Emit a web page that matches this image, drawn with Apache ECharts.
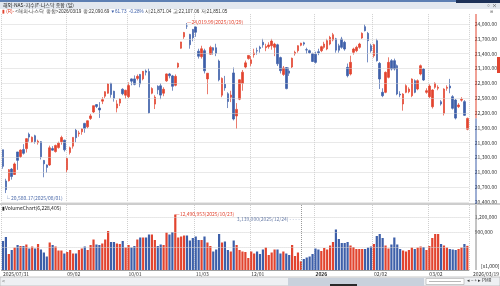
<!DOCTYPE html>
<html>
<head>
<meta charset="utf-8">
<script src="https://cdn.jsdelivr.net/npm/echarts@6/dist/echarts.min.js"></script>
<style>
  html, body { margin: 0; padding: 0; background: #fff; }
  #chart { width: 500px; height: 286px; }
</style>
</head>
<body>
<div id="chart"></div>
<script>
// trading days per month
const tradeDays = {
  '2025/07': [31],
  '2025/08': [1, 4, 5, 6, 7, 8, 11, 12, 13, 14, 15, 18, 19, 20, 21, 22, 25, 26, 27, 28, 29],
  '2025/09': [2, 3, 4, 5, 8, 9, 10, 11, 12, 15, 16, 17, 18, 19, 22, 23, 24, 25, 26, 29, 30],
  '2025/10': [1, 2, 3, 6, 7, 8, 9, 10, 13, 14, 15, 16, 17, 20, 21, 22, 23, 24, 27, 28, 29, 30, 31],
  '2025/11': [3, 4, 5, 6, 7, 10, 11, 12, 13, 14, 17, 18, 19, 20, 21, 24, 25, 26, 28],
  '2025/12': [1, 2, 3, 4, 5, 8, 9, 10, 11, 12, 15, 16, 17, 18, 19, 22, 23, 24, 26, 29, 30, 31],
  '2026/01': [2, 5, 6, 7, 8, 9, 12, 13, 14, 15, 16, 20, 21, 22, 23, 26, 27, 28, 29, 30],
  '2026/02': [2, 3, 4, 5, 6, 9, 10, 11, 12, 13, 17, 18, 19, 20, 23, 24, 25, 26, 27],
  '2026/03': [2, 3, 4, 5, 6, 9, 10, 11, 12, 13, 16, 17, 18, 19]
};
const dates = [];
Object.keys(tradeDays).forEach(m => tradeDays[m].forEach(d => dates.push(m + '/' + String(d).padStart(2, '0'))));

const open = [
  21457, 20826, 20830, 21065, 20956, 21412, 21320, 21460, 21480, 21770,
  21620, 21740, 21600, 21620, 21240, 21150, 21150, 21480, 21420, 21500,
  21620, 21650, 21050, 21400, 21530, 21850, 21780, 21820, 21990, 21920,
  22090, 22220, 22370, 22300, 22440, 22540, 22600, 22800, 22640, 22300,
  22400, 22680, 22560, 22530, 22890, 22890, 22900, 22980, 22890, 23050,
  23040, 22600, 22380, 22740, 22750, 22600, 22850, 22990, 22950, 22760,
  23130, 23510, 23740, 23960, 23790, 23890, 23940, 23450, 23340, 23460,
  22890, 23390, 23520, 23520, 23250, 22560, 22780, 22590, 22520, 23010,
  22140, 22480, 22800, 23130, 23300, 23200, 23380, 23460, 23530, 23630,
  23520, 23540, 23560, 23530, 23580, 23320, 22980, 23120, 23050, 23130,
  23400, 23460, 23570, 23620, 23480, 23460, 23400, 23390, 23440, 23460,
  23528, 23494, 23595, 23676, 23700, 23560, 23696, 23629, 23123, 22988,
  23427, 23460, 23528, 23717, 23946, 23811, 23562, 23359, 23663, 23204,
  22618, 22618, 22921, 23258, 23258, 23157, 22580, 22382, 22618, 22631,
  22550, 22854, 22685, 22988, 23090, 22618, 22530, 22327, 22720, 22700,
  22428, 22194, 22700, 22746, 22530, 22463, 22328, 22460, 22430, 21871.04
];
const high = [
  21457, 20870, 21066, 21086, 21198, 21414, 21464, 21570, 21690, 21803,
  21725, 21760, 21660, 21630, 21250, 21160, 21540, 21530, 21560, 21620,
  21740, 21660, 21300, 21520, 21710, 21880, 21840, 21890, 22000, 22050,
  22180, 22350, 22380, 22420, 22520, 22640, 22800, 22810, 22650, 22460,
  22500, 22700, 22670, 22820, 22900, 22960, 22980, 22990, 23050, 23080,
  23100, 22720, 22560, 22760, 22800, 22720, 23000, 23010, 22970, 22980,
  23220, 23640, 23840, 24019.99, 23800, 23900, 23950, 23500, 23560, 23500,
  23010, 23560, 23530, 23600, 23280, 22920, 22950, 22620, 22650, 23120,
  22400, 22880, 23070, 23260, 23370, 23350, 23500, 23520, 23560, 23700,
  23600, 23630, 23700, 23620, 23600, 23340, 23150, 23130, 23120, 23320,
  23460, 23570, 23620, 23640, 23520, 23480, 23420, 23440, 23500, 23560,
  23640, 23700, 23760, 23820, 23720, 23600, 23740, 23660, 23200, 23359,
  23520, 23560, 23620, 23830, 23990, 23840, 23600, 23600, 23700, 23230,
  22700, 23040, 23326, 23290, 23300, 23180, 22640, 22600, 22780, 22720,
  22900, 22880, 22880, 23180, 23110, 22700, 22780, 22680, 22820, 22760,
  22460, 22700, 22760, 22890, 22560, 22480, 22400, 22520, 22460, 22107.06
];
const low = [
  21072, 20580.17, 20815, 20853, 20946, 21050, 21290, 21360, 21400, 21620,
  21600, 21580, 21560, 21260, 20900, 20990, 21130, 21440, 21400, 21480,
  21560, 21420, 21000, 21360, 21480, 21610, 21720, 21760, 21800, 21890,
  22060, 22200, 22300, 22100, 22380, 22500, 22590, 22510, 22430, 22213,
  22340, 22560, 22490, 22500, 22760, 22760, 22860, 22720, 22860, 22960,
  22190, 22580, 22280, 22580, 22480, 22540, 22830, 22900, 22650, 22740,
  23100, 23500, 23700, 23900, 23500, 23650, 23740, 23300, 23300, 23000,
  22580, 23380, 23380, 23350, 22840, 22520, 22650, 22300, 22420, 22050,
  21880, 22460, 22650, 23100, 23280, 23150, 23320, 23380, 23420, 23520,
  23450, 23500, 23480, 23350, 23150, 23000, 22950, 22680, 22950, 23110,
  23360, 23420, 23550, 23560, 23400, 23400, 23230, 23200, 23370, 23430,
  23500, 23470, 23570, 23650, 23420, 23420, 23500, 23460, 22921, 22960,
  23380, 23430, 23500, 23700, 23850, 23224, 23420, 23320, 23240, 22685,
  22520, 22600, 22900, 23060, 23060, 22560, 22520, 22247, 22600, 22600,
  22520, 22600, 22660, 22960, 22850, 22590, 22500, 22290, 22690, 22660,
  22350, 22150, 22650, 22600, 22270, 22070, 22300, 22430, 22140, 21851.05
];
const close = [
  21122, 20650, 21053, 20916, 21169, 21242, 21450, 21385, 21681, 21713,
  21710, 21622, 21629, 21314, 21172, 21100, 21496, 21449, 21544, 21590,
  21705, 21455, 21279, 21497, 21707, 21700, 21798, 21879, 21886, 22043,
  22141, 22348, 22333, 22261, 22470, 22631, 22788, 22573, 22497, 22384,
  22484, 22591, 22660, 22755, 22844, 22780, 22941, 22788, 23043, 23024,
  22204, 22694, 22521, 22670, 22562, 22679, 22990, 22953, 22740, 22941,
  23204, 23637, 23827, 23958, 23581, 23724, 23834, 23348, 23499, 23053,
  23004, 23527, 23468, 23406, 22870, 22900, 22708, 22432, 22564, 22078,
  22273, 22872, 23025, 23214, 23365, 23275, 23413, 23454, 23505, 23578,
  23545, 23576, 23654, 23593, 23195, 23057, 23111, 22693, 23006, 23307,
  23428, 23561, 23613, 23593, 23474, 23419, 23242, 23224, 23420, 23541,
  23595, 23663, 23730, 23784, 23471, 23470, 23528, 23494, 22955, 23224,
  23494, 23528, 23595, 23811, 23865, 23663, 23460, 23582, 23258, 22887,
  22550, 23022, 23224, 23090, 23090, 22584, 22564, 22584, 22752, 22685,
  22887, 22618, 22854, 23157, 22867, 22651, 22746, 22665, 22800, 22720,
  22382, 22685, 22720, 22705, 22295, 22097, 22362, 22477, 22152.42, 22090.69
];
// volume, thousand shares
const volume = [
  7200000, 8000000, 4600000, 5400000, 5900000, 6400000, 6200000, 6200000, 6500000, 5700000,
  6100000, 5700000, 6600000, 5500000, 4900000, 4100000, 6900000, 6400000, 6100000, 5300000,
  5300000, 4700000, 5000000, 5400000, 4700000, 4700000, 5400000, 5700000, 6100000, 5400000,
  6400000, 7500000, 6500000, 6400000, 6700000, 7500000, 9200000, 7000000, 7000000, 6700000,
  6600000, 7200000, 5900000, 6400000, 5900000, 6200000, 7500000, 7900000, 7900000, 7900000,
  8500000, 8500000, 7400000, 6200000, 6500000, 6400000, 8900000, 8500000, 9000000, 12490953,
  7900000, 8100000, 8300000, 8300000, 7300000, 7800000, 8100000, 7400000, 7400000, 8100000,
  6900000, 6200000, 5100000, 5500000, 8600000, 6900000, 7100000, 5400000, 5100000, 7300000,
  6400000, 5400000, 5100000, 5000000, 3800000, 5100000, 4700000, 5100000, 4600000, 5500000,
  5900000, 4400000, 4900000, 5500000, 5500000, 4700000, 5100000, 4700000, 4400000, 6400000,
  4200000, 4900000, 3139000, 3600000, 3900000, 4100000, 4600000, 5700000, 5500000, 5200000,
  5800000, 5500000, 6300000, 7000000, 9500000, 7600000, 6800000, 6800000, 7000000, 6300000,
  6000000, 5600000, 5600000, 5600000, 5600000, 5900000, 6100000, 6600000, 8200000, 8600000,
  7800000, 6300000, 5700000, 6500000, 7900000, 6500000, 5600000, 5300000, 5100000, 5400000,
  5900000, 5600000, 5900000, 6100000, 6000000, 5400000, 6200000, 7800000, 8600000, 8600000,
  6600000, 6300000, 5900000, 5600000, 5500000, 5400000, 5600000, 5900000, 6600000, 6228405
];

const priceTicks = [20400, 20700, 21000, 21300, 21600, 21900, 22200, 22500, 22800, 23100, 23400, 23700, 24000];
const volTicks = [6000000, 9000000, 12000000];
const xTickIdx = [0, 22, 43, 66, 85, 107, 127, 146];
const xTickText = ['2025/07/31', '09/02', '10/01', '11/03', '12/01', '2026', '02/02', '03/02'];

const RED = '#e2442f';
const BLUE = '#3d5fa9';
const FONT = '"Noto Sans CJK KR", "Noto Sans", sans-serif';
const last = dates.length - 1;

const fmt2 = v => v.toLocaleString('en-US', { minimumFractionDigits: 2, maximumFractionDigits: 2 });
const fmt0 = v => Math.round(v).toLocaleString('en-US');
// the volume scale on the right is printed in tens
const fmtVolAxis = v => fmt0(v / 10);

const chart = echarts.init(document.getElementById('chart'));

const option = {
  animation: false,
  backgroundColor: '#fff',
  textStyle: { fontFamily: FONT },
  grid: [
    { left: 1.5, right: 28, top: 14.11, bottom: 84 },
    { left: 1.5, right: 28, top: 205, bottom: 16 }
  ],
  xAxis: [
    {
      type: 'category', gridIndex: 0, data: dates, boundaryGap: true,
      axisLine: { show: false }, axisTick: { show: false }, axisLabel: { show: false },
      splitLine: { show: true, interval: i => xTickIdx.includes(i), lineStyle: { color: '#cfcfcf', type: 'dotted' } }
    },
    {
      type: 'category', gridIndex: 1, data: dates, boundaryGap: true,
      axisLine: { show: true, lineStyle: { color: '#a0a0a0' } }, axisTick: { show: false },
      splitLine: { show: true, interval: i => xTickIdx.includes(i), lineStyle: { color: '#cfcfcf', type: 'dotted' } },
      axisLabel: {
        interval: i => xTickIdx.includes(i), margin: 2, align: 'left', fontSize: 5, color: '#333',
        formatter: (v, i) => {
          const k = xTickIdx.indexOf(i);
          if (k < 0) return '';
          return xTickText[k] === '2026' ? '{b|2026}' : xTickText[k];
        },
        rich: { b: { fontWeight: 'bold', fontSize: 5, color: '#222' } }
      }
    }
  ],
  yAxis: [
    {
      type: 'value', gridIndex: 0, position: 'right', min: 20400, max: 24200, interval: 300,
      axisLine: { show: false }, axisTick: { show: false }, splitLine: { show: false },
      axisLabel: { margin: 6, fontSize: 5, color: '#333', formatter: v => priceTicks.includes(v) ? fmt2(v) : '' }
    },
    {
      type: 'value', gridIndex: 1, position: 'right', min: 1400000, max: 14400000, interval: 200000,
      axisLine: { show: false }, axisTick: { show: false }, splitLine: { show: false },
      axisLabel: { margin: 6, fontSize: 5, color: '#333', formatter: v => volTicks.includes(v) && v !== 6000000 ? fmtVolAxis(v) : '' }
    }
  ],
  series: [
    {
      type: 'candlestick', xAxisIndex: 0, yAxisIndex: 0, barWidth: 2,
      data: dates.map((d, i) => [open[i], close[i], low[i], high[i]]),
      itemStyle: { color: RED, color0: BLUE, borderColor: RED, borderColor0: BLUE, borderWidth: 0.7 },
      markLine: {
        silent: true, symbol: ['none', 'none'], animation: false,
        data: priceTicks.map(v => ({ yAxis: v, lineStyle: { color: '#d2d2d2', type: 'dotted', width: 1 }, label: { show: false } }))
          .concat([{
            yAxis: close[last], lineStyle: { opacity: 0 },
            label: {
              show: true, position: 'end', distance: 5, formatter: fmt2(close[last]) + '\n-0.28%',
              backgroundColor: BLUE, color: '#fff', fontSize: 5, lineHeight: 5, padding: [0.5, 4, 0.5, 1]
            }
          }])
      },
      markPoint: {
        symbol: 'circle', symbolSize: 0, silent: true, animation: false,
        data: [
          { coord: [dates[63], high[63]], label: { show: true, position: 'right', distance: 0, offset: [0, -1], formatter: '—24,019.99(2025/10/29)', color: RED, fontSize: 5 } },
          { coord: [dates[1], low[1]], label: { show: true, position: 'right', distance: 0, offset: [-1, 5], formatter: '└ 20,580.17(2025/08/01)', color: '#4e6cab', fontSize: 5 } }
        ]
      }
    },
    {
      type: 'bar', xAxisIndex: 1, yAxisIndex: 1, barWidth: 2.2,
      data: volume.map((v, i) => ({ value: v, itemStyle: { color: close[i] >= open[i] ? RED : BLUE } })),
      markLine: {
        silent: true, symbol: ['none', 'none'], animation: false,
        data: volTicks.map(v => ({ yAxis: v, lineStyle: { color: '#d2d2d2', type: 'dotted', width: 1 }, label: { show: false } }))
          .concat([
            { xAxis: dates[102], lineStyle: { color: '#9a9a9a', type: 'dotted', width: 1 }, label: { show: false } },
            {
              yAxis: volume[last], lineStyle: { opacity: 0 },
              label: { show: true, position: 'end', distance: 5, formatter: fmtVolAxis(volume[last]), backgroundColor: '#1e1e1e', color: '#fff', fontSize: 5, padding: [1, 4, 1, 1] }
            }
          ])
      },
      markPoint: {
        symbol: 'circle', symbolSize: 0, silent: true, animation: false,
        data: [
          { coord: [dates[59], volume[59]], label: { show: true, position: 'right', distance: 0, formatter: '—' + fmt0(volume[59]) + '(2025/10/23)', color: RED, fontSize: 5 } },
          { coord: [dates[102], 11600000], label: { show: true, position: 'left', distance: 1, formatter: fmt0(volume[102]) + '(2025/12/24) - - - -', color: '#6a7ea8', fontSize: 5 } }
        ]
      }
    }
  ]
};
chart.setOption(option);

const yLast = chart.convertToPixel({ yAxisIndex: 0 }, close[last]);
chart.setOption({
  graphic: [
    { type: 'rect', shape: { x: 0, y: 0, width: 500, height: 2 }, style: { fill: '#5d7fb3' }, z: 100 },
    { type: 'rect', shape: { x: 0, y: 2, width: 500, height: 7 }, style: { fill: '#e3e8ef' }, z: 100 },
    { type: 'rect', shape: { x: 456, y: 0, width: 44, height: 3 }, style: { fill: '#1d3158' }, z: 101 },
    { type: 'text', x: 3, y: 2.6, z: 102, style: { text: '해외-NAS-지수(F-나스닥 종합 (일)', font: '5px ' + FONT, fill: '#222', textVerticalAlign: 'top' } },
    { type: 'text', x: 486, y: 2.8, z: 102, style: { text: '▫ ×', font: '5px ' + FONT, fill: '#333', textVerticalAlign: 'top' } },
    { type: 'text', x: 490, y: 9.5, z: 102, style: { text: '⊞', font: '4px ' + FONT, fill: '#777', textVerticalAlign: 'top' } },
    {
      type: 'text', x: 2, y: 9.5, z: 102,
      style: {
        text: '{r|▮ (R)-} {k|<해외-나스닥 종합>2026/03/19 종:22,090.69} {b|▼61.73  -0.28%} {k|시:21,871.04 고:22,107.06 저:21,851.05}',
        font: '4.6px ' + FONT, textVerticalAlign: 'top',
        rich: { r: { fill: RED, fontSize: 4.6 }, k: { fill: '#333', fontSize: 4.6 }, b: { fill: BLUE, fontSize: 4.6 } }
      }
    },
    { type: 'line', shape: { x1: 0, y1: 204, x2: 500, y2: 204 }, style: { stroke: '#9c9c9c', lineWidth: 1 }, z: 90 },
    { type: 'line', shape: { x1: 476, y1: 14, x2: 476, y2: yLast }, style: { stroke: RED, lineWidth: 1 }, z: 90 },
    { type: 'line', shape: { x1: 476, y1: yLast, x2: 476, y2: 204 }, style: { stroke: BLUE, lineWidth: 1 }, z: 90 },
    { type: 'line', shape: { x1: 476, y1: 205, x2: 476, y2: 270 }, style: { stroke: '#8a8a8a', lineWidth: 1 }, z: 90 },
    { type: 'rect', shape: { x: 497, y: 57, width: 3, height: 16 }, style: { fill: RED }, z: 90 },
    { type: 'text', x: 2, y: 205.5, z: 102, style: { text: '▮VolumeChart(6,228,405)', font: '5px ' + FONT, fill: '#222', textVerticalAlign: 'top' } },
    { type: 'text', x: 481, y: 263.5, z: 102, style: { text: '[x1,000]', font: '5px ' + FONT, fill: '#222', textVerticalAlign: 'top' } },
    { type: 'text', x: 499, y: 271.5, z: 102, style: { text: '2026/03/19', font: '5px ' + FONT, fill: '#333', textAlign: 'right', textVerticalAlign: 'top' } },
    // scroll bar
    { type: 'rect', shape: { x: 0, y: 277, width: 500, height: 9 }, style: { fill: '#eef0f3', stroke: '#b9b9b9', lineWidth: 0.8 }, z: 100 },
    { type: 'rect', shape: { x: 288, y: 278, width: 136, height: 8 }, style: { fill: '#c9d1dc' }, z: 101 },
    { type: 'rect', shape: { x: 330, y: 284, width: 27, height: 2 }, style: { fill: '#2a2a2a' }, z: 102 },
    { type: 'rect', shape: { x: 426, y: 278.5, width: 38, height: 6 }, style: { fill: '#fff', stroke: '#aaa', lineWidth: 0.6 }, z: 101 },
    { type: 'line', shape: { x1: 429, y1: 281.5, x2: 461, y2: 281.5 }, style: { stroke: '#888', lineWidth: 0.6 }, z: 102 },
    { type: 'text', x: 2, y: 278.5, z: 102, style: { text: '<', font: '5px ' + FONT, fill: '#555', textVerticalAlign: 'top' } },
    { type: 'text', x: 467, y: 278.5, z: 102, style: { text: '◂ − + ▸ PMR', font: '4.5px ' + FONT, fill: '#333', textVerticalAlign: 'top' } }
  ]
});
</script>
</body>
</html>
